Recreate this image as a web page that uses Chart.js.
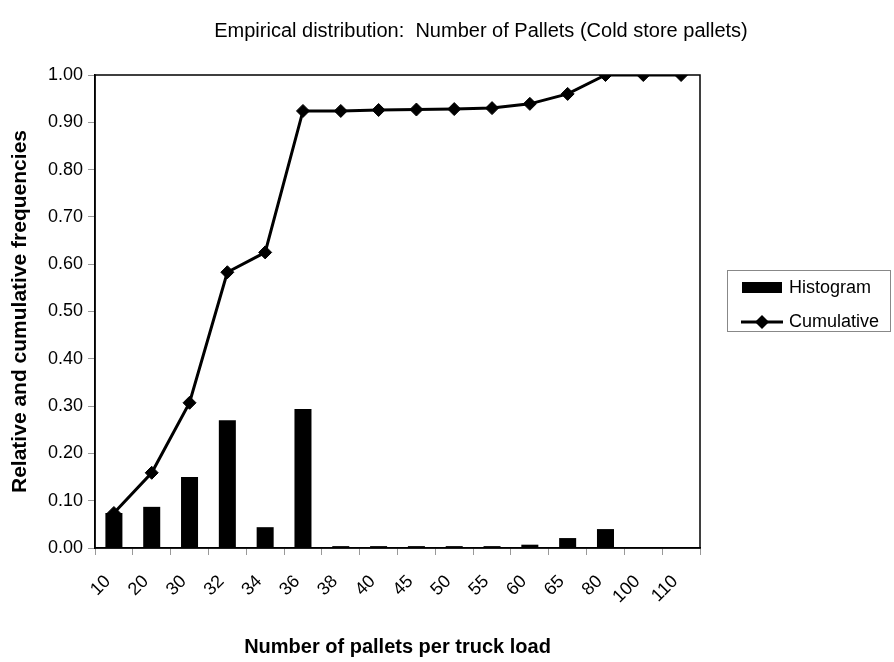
<!DOCTYPE html>
<html>
<head>
<meta charset="utf-8">
<title>Empirical distribution</title>
<script src="https://cdn.jsdelivr.net/npm/chart.js@4/dist/chart.umd.min.js"></script>
<style>
    html, body { margin: 0; padding: 0; background: #fff; }
    #wrap { width: 894px; height: 662px; }
</style>
</head>
<body>
<div id="wrap"><canvas id="grafica" width="894" height="662"></canvas></div>
<script>
// datos
const categorias = ['10', '20', '30', '32', '34', '36', '38', '40', '45', '50', '55', '60', '65', '80', '100', '110'];
const histograma = [0.074, 0.087, 0.150, 0.270, 0.044, 0.294, 0.004, 0.004, 0.004, 0.004, 0.004, 0.007, 0.021, 0.040, 0, 0];
const acumulada = [0.074, 0.159, 0.307, 0.583, 0.625, 0.924, 0.924, 0.926, 0.927, 0.928, 0.930, 0.939, 0.960, 1.000, 1.000, 1.000];
const tituloGrafica = 'Empirical distribution:  Number of Pallets (Cold store pallets)';
const fuente = '"Liberation Sans", Arial, sans-serif';

// marco del area de trazado + titulo + leyenda a mano
const marcoYLeyenda = {
    id: 'marcoYLeyenda',
    afterDatasetsDraw(chart) {
        const { ctx, chartArea: a } = chart;
        ctx.save();
        ctx.strokeStyle = '#000';
        ctx.lineWidth = 1.5;
        ctx.strokeRect(a.left, a.top, a.right - a.left, a.bottom - a.top);
        ctx.restore();
    },
    afterDraw(chart) {
        const ctx = chart.ctx;
        ctx.save();
        ctx.fillStyle = '#000';
        ctx.font = '20px ' + fuente;
        ctx.textAlign = 'center';
        ctx.textBaseline = 'middle';
        ctx.fillText(tituloGrafica, 481, 31);

        // leyenda
        ctx.strokeStyle = '#888';
        ctx.lineWidth = 1;
        ctx.strokeRect(727.5, 270.5, 163, 61);
        ctx.fillRect(742, 282, 40, 11);
        ctx.lineWidth = 3;
        ctx.strokeStyle = '#000';
        ctx.beginPath();
        ctx.moveTo(741, 322);
        ctx.lineTo(783, 322);
        ctx.stroke();
        ctx.beginPath();
        ctx.moveTo(762, 315);
        ctx.lineTo(769, 322);
        ctx.lineTo(762, 329);
        ctx.lineTo(755, 322);
        ctx.closePath();
        ctx.fill();
        ctx.font = '18px ' + fuente;
        ctx.textAlign = 'left';
        ctx.fillText('Histogram', 789, 288);
        ctx.fillText('Cumulative', 789, 322);
        ctx.restore();
    }
};

const ctx = document.getElementById('grafica').getContext('2d');
new Chart(ctx, {
    type: 'bar',
    data: {
        labels: categorias,
        datasets: [
            {
                type: 'line',
                label: 'Cumulative',
                data: acumulada,
                borderColor: '#000',
                backgroundColor: '#000',
                borderWidth: 3,
                pointStyle: 'rectRot',
                pointRadius: 6.5,
                pointBorderWidth: 1,
                tension: 0,
                order: 0
            },
            {
                label: 'Histogram',
                data: histograma,
                backgroundColor: '#000',
                borderWidth: 0,
                barPercentage: 1,
                categoryPercentage: 0.45,
                order: 1
            }
        ]
    },
    options: {
        responsive: false,
        animation: false,
        layout: { padding: { top: 75, right: 194, left: 0, bottom: 0 } },
        plugins: {
            legend: { display: false },
            tooltip: { enabled: false }
        },
        scales: {
            x: {
                offset: true,
                grid: { display: true, drawOnChartArea: false, tickLength: 7, color: '#999', offset: true },
                border: { color: '#000', width: 1.5 },
                ticks: {
                    color: '#000',
                    font: { family: fuente, size: 18 },
                    minRotation: 45,
                    maxRotation: 45,
                    labelOffset: -6,
                    padding: 16,
                    autoSkip: false
                },
                title: {
                    display: true,
                    text: 'Number of pallets per truck load',
                    color: '#000',
                    font: { family: fuente, size: 20, weight: 'bold' },
                    padding: { top: 0, bottom: 3 }
                },
                afterFit(scale) { scale.height = 114; }
            },
            y: {
                min: 0,
                max: 1,
                grid: { display: true, drawOnChartArea: false, tickLength: 7, color: '#999' },
                border: { color: '#000', width: 1.5 },
                ticks: {
                    stepSize: 0.1,
                    color: '#000',
                    font: { family: fuente, size: 18 },
                    padding: 5,
                    callback: v => v.toFixed(2)
                },
                title: {
                    display: true,
                    text: 'Relative and cumulative frequencies',
                    color: '#000',
                    font: { family: fuente, size: 21, weight: 'bold' },
                    padding: { top: 8, bottom: 0 }
                },
                afterFit(scale) { scale.width = 95; }
            }
        }
    },
    plugins: [marcoYLeyenda]
});
</script>
</body>
</html>
